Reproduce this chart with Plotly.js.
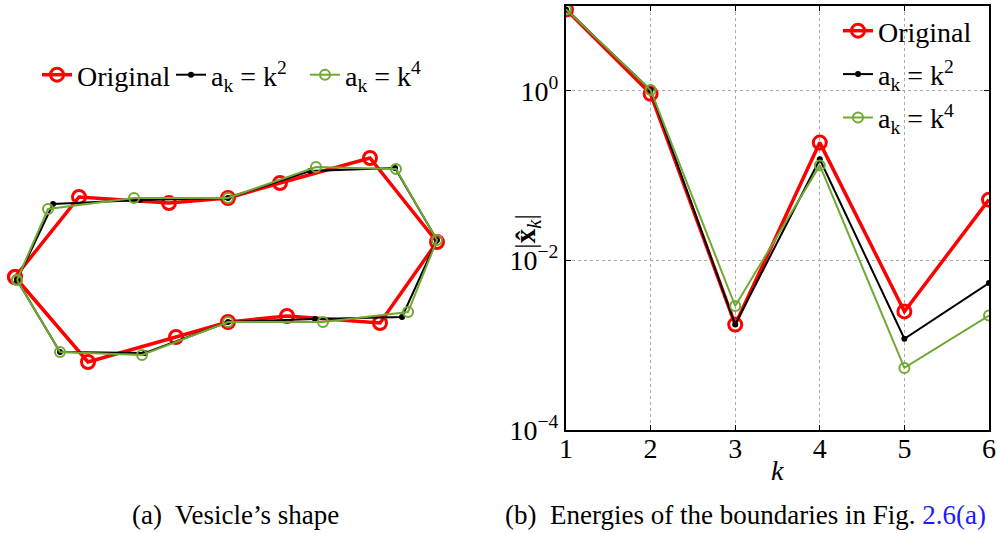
<!DOCTYPE html>
<html>
<head>
<meta charset="utf-8">
<script src="https://cdn.plot.ly/plotly-3.0.1.min.js"></script>
<style>html,body{margin:0;padding:0;background:#fff;}#chart{width:997px;height:533px;}</style>
</head>
<body>
<div id="chart"></div>
<script>
// (a) Vesicle's shape: boundary points (arbitrary units)
const shapeOrigX = [-2.11, -1.47, -0.57, 0.02, 0.54, 1.44, 2.11, 1.54, 0.61, 0.02, -0.50, -1.38];
const shapeOrigY = [-0.17, 0.63, 0.57, 0.62, 0.77, 1.02, 0.18, -0.63, -0.56, -0.62, -0.77, -1.02];
const shapeK2X = [-2.09, -1.73, -0.86, 0.02, 0.84, 1.69, 2.11, 1.76, 0.89, 0.02, -0.81, -1.66];
const shapeK2Y = [-0.20, 0.56, 0.60, 0.62, 0.89, 0.92, 0.20, -0.57, -0.59, -0.62, -0.93, -0.92];
const shapeK4X = [-2.09, -1.78, -0.92, 0.02, 0.90, 1.70, 2.11, 1.82, 0.97, 0.02, -0.84, -1.66];
const shapeK4Y = [-0.20, 0.51, 0.62, 0.62, 0.93, 0.91, 0.20, -0.52, -0.62, -0.62, -0.95, -0.92];

// (b) Energies |x_k|
const k = [1, 2, 3, 4, 5, 6];
const energyOrig = [9.1, 0.92, 0.00175, 0.245, 0.0025, 0.052];
const energyK2 = [9.1, 1.02, 0.00175, 0.156, 0.00119, 0.0054];
const energyK4 = [9.1, 1.02, 0.0029, 0.132, 0.00054, 0.00224];

const yTickVals = [1e-4, 1e-2, 1];
const yTickText = ['10<sup>\u22124</sup>', '10<sup>\u22122</sup>', '10<sup>0</sup>'];

const names = ['Original', 'a<sub>k</sub> = k<sup>2</sup>', 'a<sub>k</sub> = k<sup>4</sup>'];
const colors = ['#ff0000', '#000000', '#6fa832'];

const close = a => a.concat([a[0]]);
const FONT = 'Liberation Serif';

const styles = [
  {line: {color: colors[0], width: 3.5}, marker: {symbol: 'circle-open', size: 13, color: colors[0], line: {width: 3, color: colors[0]}}},
  {line: {color: colors[1], width: 2}, marker: {symbol: 'circle', size: 6, color: colors[1]}},
  {line: {color: colors[2], width: 2}, marker: {symbol: 'circle-open', size: 10, color: colors[2], line: {width: 2, color: colors[2]}}}
];

const shapeX = [shapeOrigX, shapeK2X, shapeK4X];
const shapeY = [shapeOrigY, shapeK2Y, shapeK4Y];
const energies = [energyOrig, energyK2, energyK4];

const traces = [];
for (let i = 0; i < 3; i++) {
  traces.push({
    x: close(shapeX[i]), y: close(shapeY[i]), xaxis: 'x', yaxis: 'y',
    mode: 'lines+markers', name: names[i], legend: 'legend',
    line: styles[i].line, marker: styles[i].marker
  });
}
for (let i = 0; i < 3; i++) {
  traces.push({
    x: k, y: energies[i], xaxis: 'x2', yaxis: 'y2',
    mode: 'lines+markers', name: names[i], legend: 'legend2', legendgroup: 'g' + i,
    line: styles[i].line, marker: styles[i].marker
  });
}

const W = 997, H = 533;
const px = v => v / W, py = v => (H - v) / H;

const layout = {
  width: W, height: H,
  margin: {l: 0, r: 0, t: 0, b: 0},
  paper_bgcolor: '#fff', plot_bgcolor: 'rgba(0,0,0,0)',
  font: {family: FONT, size: 27, color: '#000'},
  showlegend: true,
  xaxis: {domain: [px(0), px(452)], range: [-2.26, 2.26], visible: false, fixedrange: true},
  yaxis: {domain: [py(390), py(130)], range: [-1.3, 1.3], visible: false, fixedrange: true},
  xaxis2: {
    domain: [px(566), px(989)], range: [1, 6], anchor: 'y2',
    tickvals: k, ticks: 'inside', ticklen: 5, tickcolor: '#000',
    showline: true, mirror: 'ticks', linecolor: '#000', linewidth: 2,
    showgrid: true, gridcolor: '#aaa', griddash: 'dot', gridwidth: 1, zeroline: false,
    tickfont: {family: FONT, size: 28}, ticklabelstandoff: -8
  },
  yaxis2: {
    domain: [py(430), py(6)], type: 'log', range: [-4, 1], anchor: 'x2',
    tickvals: yTickVals, ticktext: yTickText, ticks: 'inside', ticklen: 5, tickcolor: '#000',
    showline: true, mirror: 'ticks', linecolor: '#000', linewidth: 2,
    showgrid: true, gridcolor: '#aaa', griddash: 'dot', gridwidth: 1, zeroline: false,
    tickfont: {family: FONT, size: 28}
  },
  legend: {
    orientation: 'h', x: px(37), xanchor: 'left', y: py(75), yanchor: 'middle',
    bgcolor: 'rgba(0,0,0,0)', borderwidth: 0, font: {family: FONT, size: 28},
    itemwidth: 30, entrywidth: 89, entrywidthmode: 'pixels'
  },
  legend2: {
    x: px(838), xanchor: 'left', y: py(6), yanchor: 'top',
    bgcolor: 'rgba(0,0,0,0)', borderwidth: 0, font: {family: FONT, size: 28},
    tracegroupgap: 4, itemwidth: 30
  },
  annotations: [
    {xref: 'paper', yref: 'paper', x: px(527), y: py(232), xanchor: 'center', yanchor: 'middle', showarrow: false,
     textangle: -90, text: '|<b>x\u0302</b><sub><i>k</i></sub>|', font: {family: FONT, size: 29}},
    {xref: 'paper', yref: 'paper', x: px(777), y: py(470), xanchor: 'center', yanchor: 'middle', showarrow: false,
     text: '<i>k</i>', font: {family: FONT, size: 28}},
    {xref: 'paper', yref: 'paper', x: px(235), y: py(515), xanchor: 'center', yanchor: 'middle', showarrow: false,
     text: '(a)  Vesicle\u2019s shape', font: {family: FONT, size: 27}},
    {xref: 'paper', yref: 'paper', x: px(745), y: py(515), xanchor: 'center', yanchor: 'middle', showarrow: false,
     text: '(b)  Energies of the boundaries in Fig. <span style="color:#1a1aff">2.6(a)</span>', font: {family: FONT, size: 27}}
  ]
};

Plotly.newPlot('chart', traces, layout, {staticPlot: true, displayModeBar: false});
</script>
</body>
</html>
